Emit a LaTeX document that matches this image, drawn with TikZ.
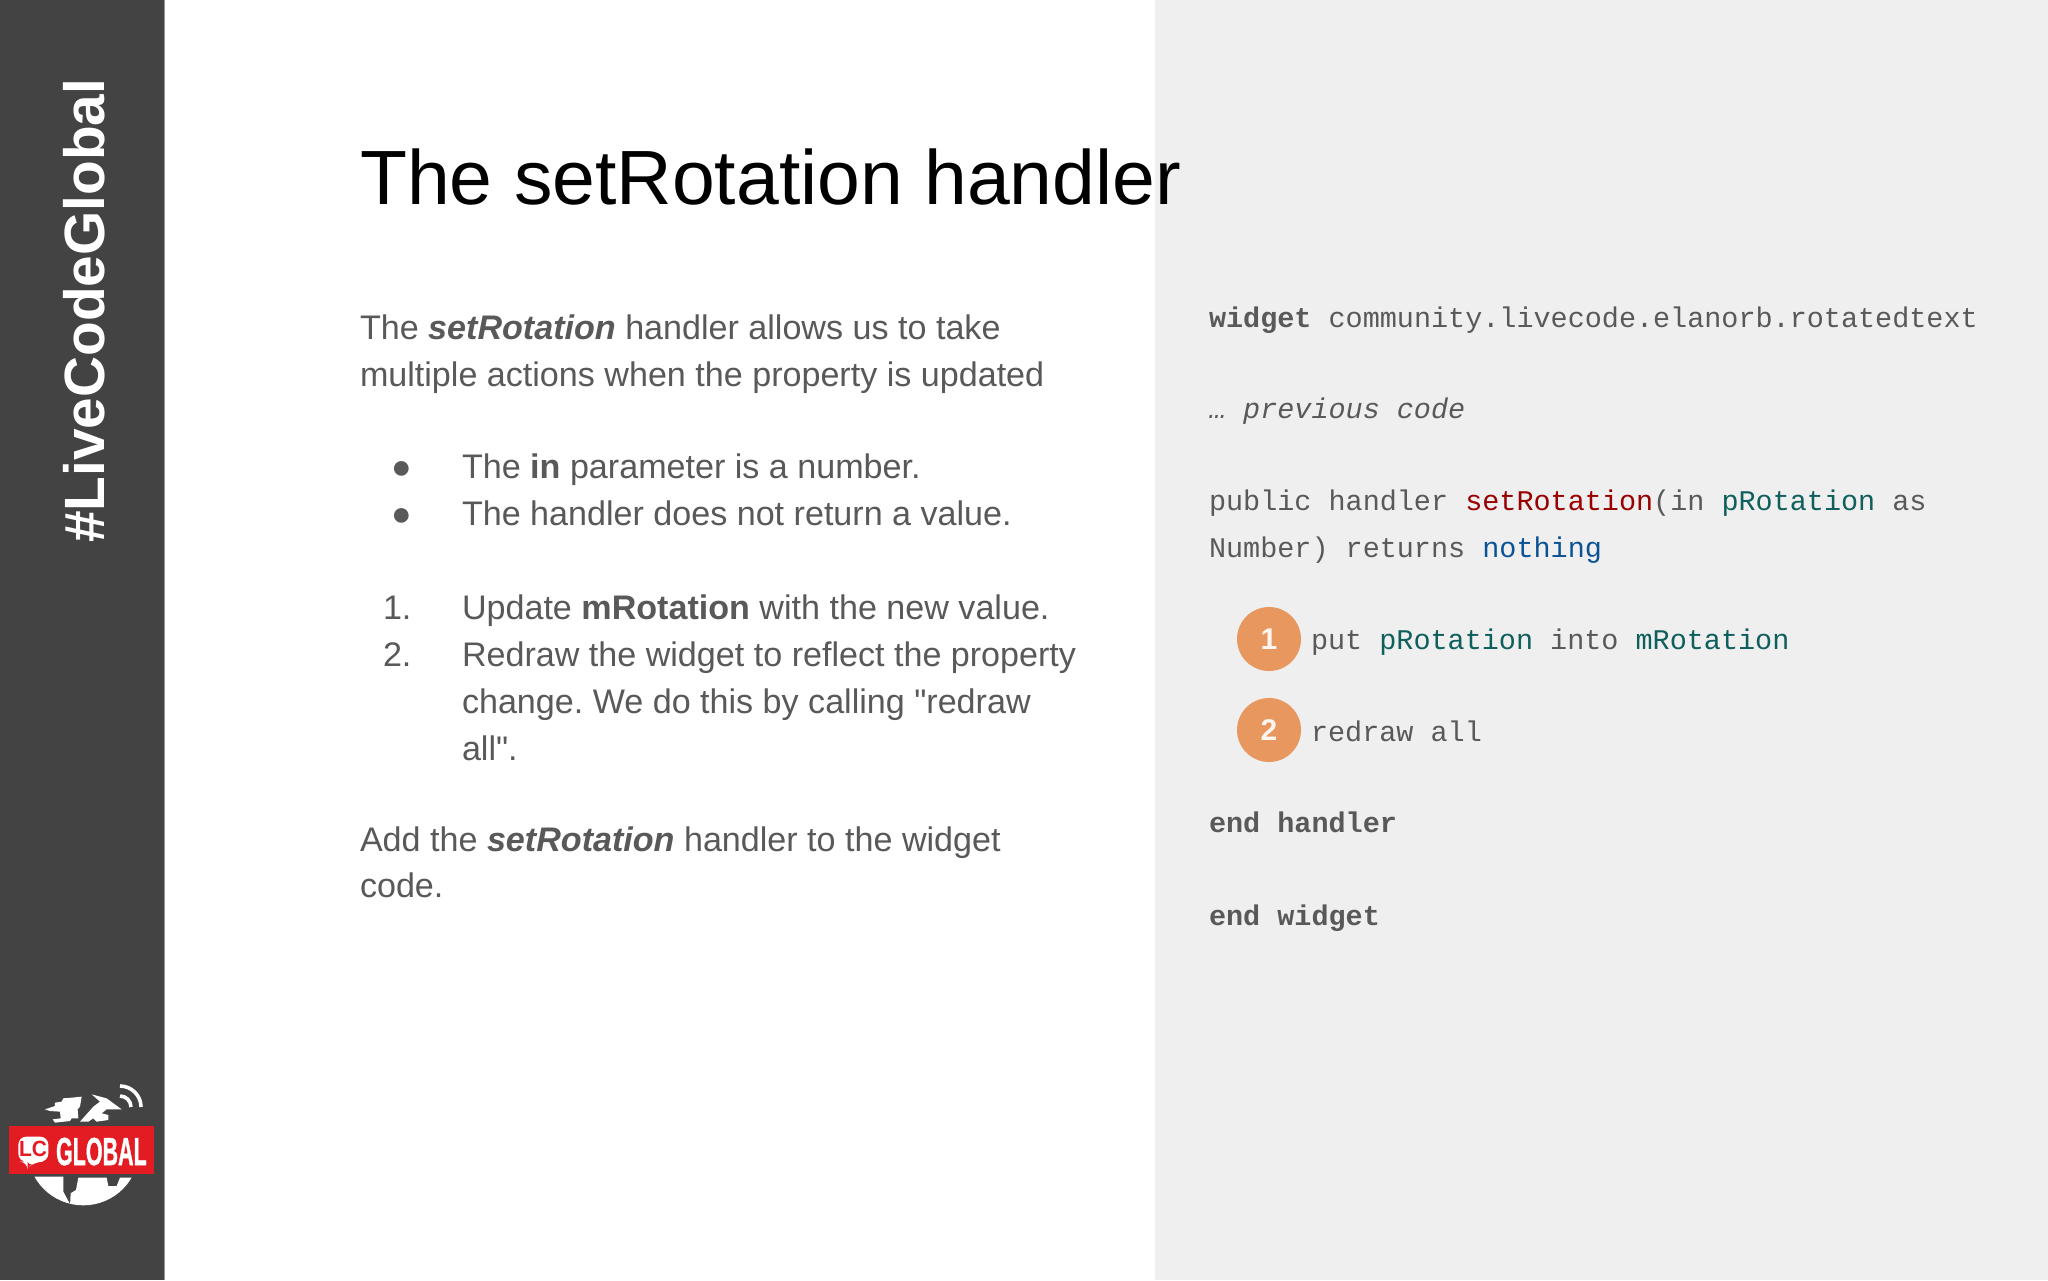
\documentclass[tikz,border=0pt]{standalone}
\usepackage{fontspec}
\setmainfont{Liberation Sans}[Ligatures=TeXOff]
\setmonofont{Liberation Mono}
\frenchspacing
\definecolor{side}{HTML}{434343}
\definecolor{panel}{HTML}{EFEFF0}
\definecolor{body}{HTML}{595959}
\definecolor{cred}{HTML}{990000}
\definecolor{cteal}{HTML}{0F5F5C}
\definecolor{cblue}{HTML}{0B5394}
\definecolor{badge}{HTML}{E8975F}
\definecolor{lcred}{HTML}{E31B23}
\newcommand{\bodyfont}{\fontsize{34.1}{47}\selectfont}
\newcommand{\codefont}{\fontsize{28.47}{47}\selectfont\ttfamily}
\tikzset{
  txt/.style={anchor=base west,inner sep=0pt,outer sep=0pt,text=body,font=\bodyfont},
  code/.style={anchor=base west,inner sep=0pt,outer sep=0pt,text=body,font=\codefont},
  numbadge/.style={circle,fill=badge,minimum size=64pt,inner sep=0pt,text=white!90!badge,font=\fontsize{30}{30}\selectfont\bfseries},
}
\begin{document}
\begin{tikzpicture}[x=1pt,y=-1pt]
\useasboundingbox (0,0) rectangle (2048,1280);
\fill[white] (0,0) rectangle (2048,1280);
\fill[panel] (1155,0) rectangle (2048,1280);
\fill[side] (0,0) rectangle (164,1280);
\fill[gray!85] (164,0) rectangle (165,1280);
% sidebar title
\node[anchor=base west,rotate=90,inner sep=0pt,text=white,font=\fontsize{56.8}{56.8}\selectfont\bfseries] (brand) at (104,543) {\#LiveCodeGlobal};
% logo
\begin{scope}[shift={(0,1050)},x=0.3333pt,y=-0.3333pt]
  \begin{scope}
    \clip (250,298) circle[radius=56pt];
    \fill[white] (135,178)--(165,168)--(165,158)--(185,155)--(190,145)--(215,143)--(245,140)--(240,170)--(233,178)--(235,205)--(215,205)--(210,213)--(165,218)--(158,208)--(182,205)--(180,185)--(150,183)--cycle;
    \fill[white] (275,133)--(320,145)--(365,178)--(320,178)--(305,190)--(325,195)--(325,210)--(290,215)--(280,205)--(265,215)--(240,215)--(280,170)--(300,155)--cycle;
    \fill[white] (100,380)--(190,380)--(190,425)--(210,462)--(150,470)--cycle;
    \fill[white] (235,383)--(320,383)--(325,408)--(350,408)--(360,383)--(400,383)--(400,470)--(210,470)--(212,430)--(228,420)--cycle;
  \end{scope}
  \fill[lcred] (28,228) rectangle (463,373);
  \fill[white,rounded corners=8pt] (55,260)--(145,260)--(145,335)--(105,335)--(83,353)--(83,335)--(55,335)--cycle;
\end{scope}
\draw[white,line width=3.6pt] (120,1086) arc[start angle=90,end angle=0,radius=21pt];
\draw[white,line width=3.6pt] (120,1096) arc[start angle=90,end angle=0,radius=11pt];
\node[inner sep=0pt,text=lcred,font=\fontsize{22}{22}\selectfont\bfseries] (lc) at (33,1148.5) {\scalebox{.95}[1]{LC}};
\node[anchor=base west,inner sep=0pt,text=white,font=\fontsize{39}{39}\selectfont\bfseries\addfontfeature{FakeBold=1.5},xscale=.55] (global) at (56,1165) {GLOBAL};
% heading
\node[anchor=base west,inner sep=0pt,text=black,font=\fontsize{76.9}{77}\selectfont] (title) at (360,204) {The setRotation handler};
% left text
\node[txt] (p1) at (360,339) {The \textbf{\textit{setRotation}} handler allows us to take};
\node[txt] (p2) at (360,386) {multiple actions when the property is updated};
\node[txt] (b1) at (391,478) {●};
\node[txt] (t1) at (462,478) {The \textbf{in} parameter is a number.};
\node[txt] (b2) at (391,525) {●};
\node[txt] (t2) at (462,525) {The handler does not return a value.};
\node[txt] (n1) at (383,619) {1.};
\node[txt] (u1) at (462,619) {Update \textbf{mRotation} with the new value.};
\node[txt] (n2) at (383,666) {2.};
\node[txt] (u2) at (462,666) {Redraw the widget to reflect the property};
\node[txt] (u3) at (462,713) {change. We do this by calling "redraw};
\node[txt] (u4) at (462,760) {all".};
\node[txt] (a1) at (360,851) {Add the \textbf{\textit{setRotation}} handler to the widget};
\node[txt] (a2) at (360,897) {code.};
% code
\node[code] (c1) at (1209,327) {\textbf{widget} community.livecode.elanorb.rotatedtext};
\node[code] (c2) at (1209,418) {\textit{… previous code}};
\node[code] (c3) at (1209,510) {public handler \textcolor{cred}{setRotation}(in \textcolor{cteal}{pRotation} as};
\node[code] (c4) at (1209,557) {Number) returns \textcolor{cblue}{nothing}};
\node[numbadge] (s1) at (1269,639) {1};
\node[code] (c5) at (1311,649) {put \textcolor{cteal}{pRotation} into \textcolor{cteal}{mRotation}};
\node[numbadge] (s2) at (1269,730) {2};
\node[code] (c6) at (1311,741) {redraw all};
\node[code] (c7) at (1209,832) {\textbf{end handler}};
\node[code] (c8) at (1209,925) {\textbf{end widget}};
\end{tikzpicture}
\end{document}
